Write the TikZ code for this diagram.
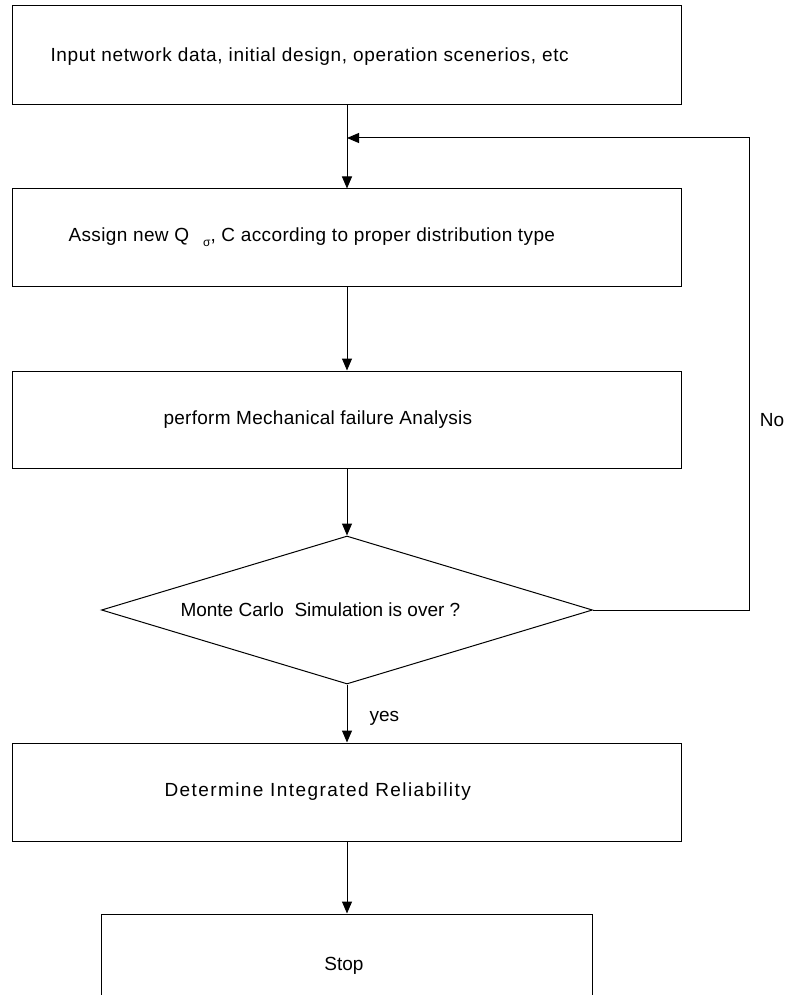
\documentclass[tikz,border=0pt]{standalone}
\usepackage{fontspec}
\setmainfont{Liberation Sans}
\usetikzlibrary{arrows.meta,shapes.geometric}

\begin{document}
\begin{tikzpicture}[x = 1pt, y = -1pt, line width = 1pt,
    box/.style = {draw, rectangle, minimum width = 669pt, inner sep = 0pt},
    txt/.style = {anchor = west, inner sep = 0pt, font = \fontsize{19}{22}\selectfont},
    wide/.style = {txt, font = \fontsize{19}{22}\selectfont\addfontfeature{LetterSpace = #1}},
    arr/.style = {-{Triangle[length = 12pt, width = 10pt]}}]
    \clip (0,0) rectangle (790,995);
    \node[box, minimum height = 99pt] (input) at (347,55.5) {};
    \node[box, minimum height = 97pt] (assign) at (347,237.5) {};
    \node[box, minimum height = 97pt] (mech) at (347,419.5) {};
    \node[draw, diamond, minimum width = 491pt, minimum height = 148pt, inner sep = 0pt] (mc) at (347,610) {};
    \node[box, minimum height = 98pt] (result) at (347,792) {};
    \node[box, minimum width = 491pt, minimum height = 100pt] (stop) at (347,964) {};
    \coordinate (loop) at (749,138);
    \coordinate (join) at (347,138);
    \node[wide = 3.5] (t-input) at (50,57) {Input network data, initial design, operation scenerios, etc};
    \node[wide = 2] (t-assign) at (68,237) {Assign new Q\hspace{14pt}\raisebox{-5pt}{\fontsize{12}{12}\selectfont σ}, C according to proper distribution type};
    \node[wide = 1.5] (t-mech) at (163,420) {perform Mechanical failure Analysis};
    \node[txt] (t-mc) at (180,610) {Monte Carlo\ \ Simulation is over ?};
    \node[wide = 7.5] (t-result) at (164,792) {Determine Integrated Reliability};
    \node[txt, anchor = center] (t-stop) at (344,966) {Stop};
    \node[txt] (yes) at (369,718) {yes};
    \node[txt, anchor = center] (no) at (772,420) {No};
    \draw[arr] (input) -- (assign);
    \draw[arr] (assign) -- (mech);
    \draw[arr] (mech) -- (mc);
    \draw[arr] (mc) -- (result);
    \draw[arr] (result) -- (stop);
    \draw[arr] (mc.east) -| (loop) -- (join);
\end{tikzpicture}
\end{document}
